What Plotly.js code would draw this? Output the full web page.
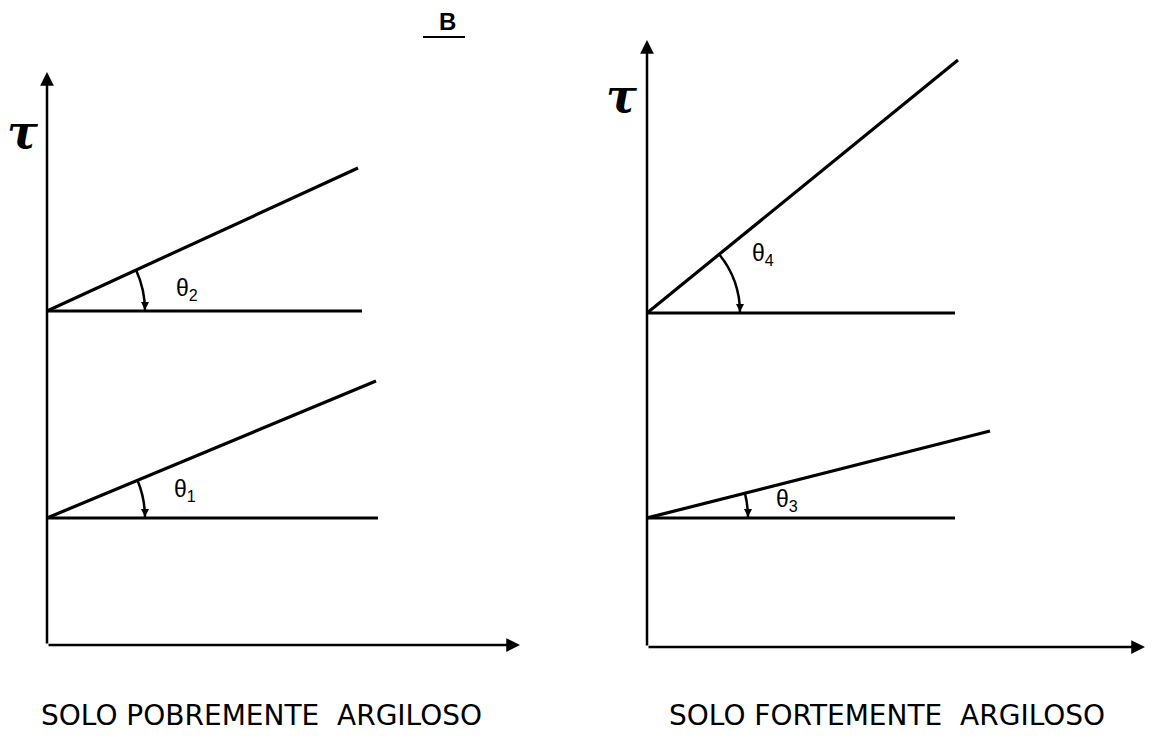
<!DOCTYPE html>
<html>
<head>
<meta charset="utf-8">
<script src="https://cdn.plot.ly/plotly-3.0.1.min.js"></script>
<style>
  html, body { margin: 0; padding: 0; background: #fff; }
  #chart { width: 1155px; height: 753px; }
</style>
</head>
<body>
<div id="chart"></div>
<script>
// Two shear-strength diagrams (tau vs sigma).
// Units are arbitrary: one unit ~ one pixel of the original drawing.
const panelTitles = ['SOLO POBREMENTE\u00a0 ARGILOSO', 'SOLO FORTEMENTE\u00a0 ARGILOSO'];
const angleNames = [['θ<sub>1</sub>', 'θ<sub>2</sub>'], ['θ<sub>3</sub>', 'θ<sub>4</sub>']];
// intercept on the tau axis for the lower and upper envelope
const cohesion = [[127, 334], [129, 334]];
// far end of each sloped envelope
const sigmaEnd = [[329, 311], [343, 311]];
const tauEnd = [[264, 477], [216, 587]];
// far end of the horizontal reference line
const baseEnd = [[331, 315], [308, 308]];
// axis lengths
const sigmaMax = [473, 498];
const tauMax = [573, 607];

const axX = ['x', 'x2'];
const axY = ['y', 'y2'];
const arcR = [[98, 98], [101, 93]];
// label offsets from the intercept point
const labelPos = [[[138, 28], [140, 22]], [[140, 17], [116, 58]]];

const traces = [];
const shapes = [];
const annotations = [];

for (let p = 0; p < 2; p++) {
  for (let k = 0; k < 2; k++) {
    const c = cohesion[p][k];
    // horizontal reference
    traces.push({
      x: [0, baseEnd[p][k]], y: [c, c], xaxis: axX[p], yaxis: axY[p],
      mode: 'lines', line: { color: '#000', width: 3.2 }, hoverinfo: 'skip'
    });
    // failure envelope
    traces.push({
      x: [0, sigmaEnd[p][k]], y: [c, tauEnd[p][k]], xaxis: axX[p], yaxis: axY[p],
      mode: 'lines', line: { color: '#000', width: 3.2 }, hoverinfo: 'skip'
    });
    // angle arc (quadratic approximation)
    const th = Math.atan2(tauEnd[p][k] - c, sigmaEnd[p][k]);
    const r = arcR[p][k];
    const ex = r * Math.cos(th), ey = c + r * Math.sin(th);
    const cy = c + r * Math.tan(th / 2);
    shapes.push({
      type: 'path', xref: axX[p], yref: axY[p],
      path: `M ${ex} ${ey} Q ${r} ${cy} ${r} ${c}`,
      line: { color: '#000', width: 2.5 }
    });
    annotations.push({
      xref: axX[p], yref: axY[p], axref: axX[p], ayref: axY[p],
      x: r, y: c + 1, ax: r, ay: c + 10,
      showarrow: true, arrowhead: 2, arrowsize: 0.8, arrowwidth: 2, arrowcolor: '#000', text: ''
    });
    annotations.push({
      xref: axX[p], yref: axY[p], xanchor: 'center', yanchor: 'middle',
      x: labelPos[p][k][0], y: c + labelPos[p][k][1],
      text: angleNames[p][k], showarrow: false,
      font: { family: 'Liberation Sans, Arial, sans-serif', size: 23, color: '#000' }
    });
  }
  // axes with arrowheads
  annotations.push({
    xref: axX[p], yref: axY[p], axref: axX[p], ayref: axY[p],
    x: 0, y: tauMax[p], ax: 0, ay: 0,
    showarrow: true, arrowhead: 2, arrowsize: 1.1, arrowwidth: 2.5, arrowcolor: '#000', text: ''
  });
  annotations.push({
    xref: axX[p], yref: axY[p], axref: axX[p], ayref: axY[p],
    x: sigmaMax[p], y: 0, ax: 0, ay: 0,
    showarrow: true, arrowhead: 2, arrowsize: 1.1, arrowwidth: 2.5, arrowcolor: '#000', text: ''
  });
}

// tau symbols, panel titles and the "B" mark
function paperText(px, py, text, family, size) {
  return {
    xref: 'paper', yref: 'paper', xanchor: 'center', yanchor: 'middle',
    x: px / 1155, y: 1 - py / 753, text: text, showarrow: false,
    font: { family: family, size: size, color: '#000' }
  };
}
annotations.push(
  paperText(22, 132, '<b><i>τ</i></b>', 'DejaVu Serif, serif', 46),
  paperText(621, 96, '<b><i>τ</i></b>', 'DejaVu Serif, serif', 46),
  paperText(261, 715, panelTitles[0], 'DejaVu Sans, sans-serif', 28),
  paperText(887, 715, panelTitles[1], 'DejaVu Sans, sans-serif', 28),
  paperText(447, 22, '<b>B</b>', 'Liberation Sans, Arial, sans-serif', 24)
);
shapes.push({
  type: 'line', xref: 'paper', yref: 'paper',
  x0: 423 / 1155, x1: 465 / 1155, y0: 1 - 37 / 753, y1: 1 - 37 / 753,
  line: { color: '#000', width: 2 }
});

const hidden = {
  showgrid: false, zeroline: false, showticklabels: false, showline: false,
  ticks: '', fixedrange: true
};

const layout = {
  width: 1155, height: 753,
  margin: { l: 0, r: 0, t: 0, b: 0 },
  paper_bgcolor: '#fff', plot_bgcolor: '#fff',
  showlegend: false,
  xaxis: Object.assign({ domain: [47 / 1155, 520 / 1155], range: [0, sigmaMax[0]] }, hidden),
  yaxis: Object.assign({ domain: [108 / 753, 681 / 753], range: [0, tauMax[0]] }, hidden),
  xaxis2: Object.assign({ domain: [647 / 1155, 1145 / 1155], range: [0, sigmaMax[1]], anchor: 'y2' }, hidden),
  yaxis2: Object.assign({ domain: [106 / 753, 713 / 753], range: [0, tauMax[1]], anchor: 'x2' }, hidden),
  shapes: shapes,
  annotations: annotations
};

Plotly.newPlot('chart', traces, layout, { staticPlot: true });
</script>
</body>
</html>
